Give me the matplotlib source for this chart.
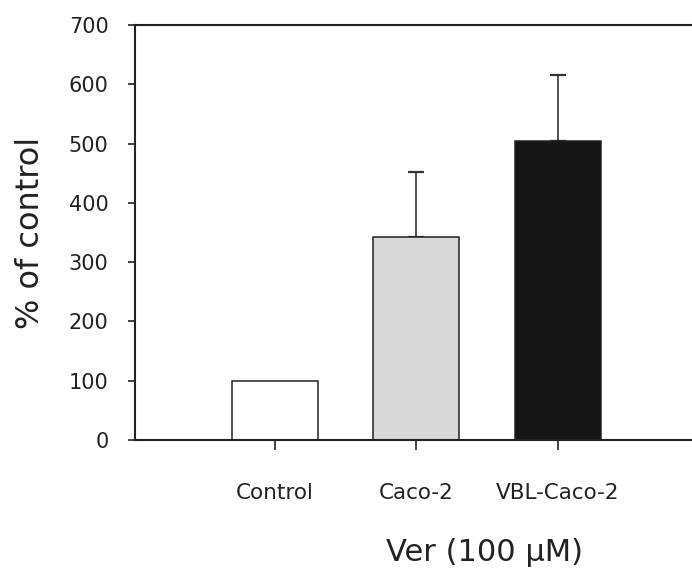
import numpy as np
import matplotlib
matplotlib.use('Agg')
import matplotlib.pyplot as plt

groups = ['Control', 'Caco-2', 'VBL-Caco-2']
values = [100, 342, 505]
err_up = [0, 110, 111]
colors = ['white', '#d9d9d9', '#151515']

fig = plt.figure(figsize=(6.92, 5.72), dpi=100)
ax = fig.add_axes([135/692, (572-440)/572, 1 - 135/692, (440-25)/572])

x = np.arange(1, len(groups) + 1)
ax.bar(x, values, width=0.61, color=colors, edgecolor='#222222', linewidth=1.1, zorder=2)
ax.errorbar(x[1:], values[1:], yerr=[[0, 0], err_up[1:]], fmt='none',
            ecolor='#333333', elinewidth=1.2, capsize=6, capthick=1.6, zorder=1)

ax.set_xlim(0.01, 3.95)
ax.set_ylim(0, 700)
ax.set_yticks(range(0, 701, 100))
ax.set_xticks(x)
ax.set_xticklabels(groups)

for s in ['left', 'bottom', 'top']:
    ax.spines[s].set_linewidth(1.5)
    ax.spines[s].set_color('#222222')
ax.spines['right'].set_visible(False)

ax.tick_params(axis='y', length=5, width=1.2, pad=14, labelsize=15, colors='#222222')
ax.tick_params(axis='x', length=7, width=1.2, pad=24, labelsize=15.5, colors='#222222')

ax.set_ylabel('% of control', fontsize=23, color='#222222')
ax.set_xlabel('Ver (100 \u03bcM)', fontsize=22, color='#222222')
ax.xaxis.set_label_coords((485-135)/(692-135), -(538-440)/415)
ax.yaxis.set_label_coords(-(135-46)/(692-135), 0.5)

fig.savefig('out.png', dpi=100)
